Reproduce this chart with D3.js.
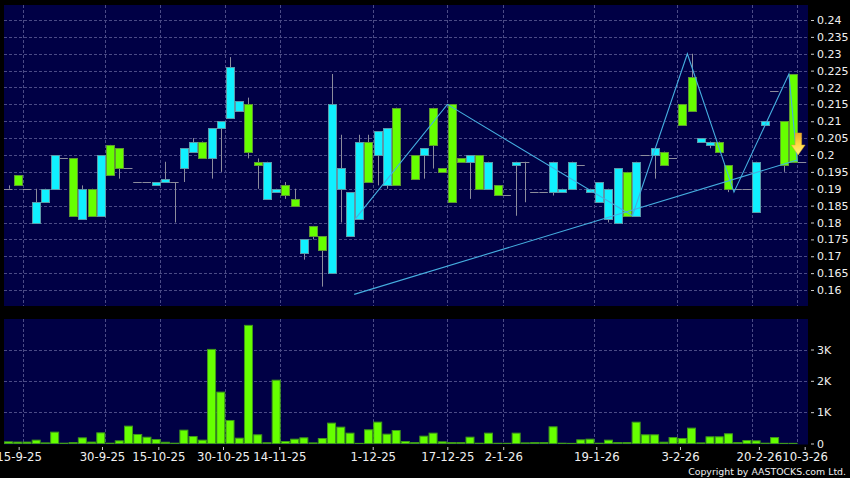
<!DOCTYPE html>
<html><head><meta charset="utf-8">
<script src="https://cdn.jsdelivr.net/npm/d3@7"></script>
<style>html,body{margin:0;padding:0;background:#000;overflow:hidden}svg{display:block}text{font-family:"DejaVu Sans",sans-serif;fill:#f0f0f0}</style>
</head><body><svg id="c" width="850" height="478"></svg>
<script>
const kinds = "DGDCCCDGCGCGGDDDCCDCCGCCCCGGCCGGCGGCCCCGCCG-GCGGGGCGCGDCDDDCCCDCCCCGCDCGDGGCCGGDDCCDGGD".split("");
const tops = [.19,.194,.19,.186,.19,.2,.199,.199,.19,.19,.2,.203,.202,.196,.192,.192,.192,.193,.192,.202,.204,.204,.208,.21,.226,.216,.215,.198,.198,.19,.191,.187,.175,.179,.176,.215,.196,.189,.204,.204,.207,.208,.214,null,.2,.202,.214,.196,.215,.199,.2,.2,.198,.191,.188,.198,.198,.189,.189,.198,.19,.198,.197,.19,.192,.19,.196,.195,.198,.2,.202,.201,.199,.215,.223,.205,.204,.204,.197,.19,.19,.198,.21,.219,.21,.224,.198];
const bottoms = [.19,.191,.19,.18,.186,.19,.199,.182,.181,.182,.182,.194,.196,.196,.192,.192,.191,.192,.192,.196,.201,.199,.199,.208,.211,.213,.201,.197,.187,.189,.188,.185,.171,.176,.172,.165,.19,.176,.181,.192,.2,.191,.191,null,.193,.2,.203,.195,.186,.198,.198,.19,.19,.188,.188,.197,.198,.189,.189,.189,.189,.19,.197,.189,.186,.181,.18,.182,.182,.2,.2,.197,.199,.209,.213,.204,.203,.201,.19,.19,.19,.183,.209,.219,.197,.198,.198];
const highs = [.191,.194,.19,.19,.19,.2,.199,.199,.191,.19,.2,.203,.202,.196,.192,.192,.192,.198,.192,.202,.205,.204,.208,.21,.229,.216,.217,.199,.198,.19,.192,.19,.175,.179,.176,.224,.206,.189,.206,.206,.207,.208,.214,null,.2,.202,.214,.196,.215,.199,.2,.2,.198,.191,.188,.198,.198,.189,.189,.198,.19,.198,.197,.19,.192,.19,.196,.195,.198,.2,.202,.201,.199,.215,.23,.205,.204,.204,.197,.19,.19,.198,.21,.219,.21,.224,.198];
const lows = [.19,.191,.19,.18,.186,.19,.199,.182,.181,.182,.182,.194,.193,.196,.192,.192,.191,.192,.18,.192,.201,.199,.193,.195,.211,.213,.199,.19,.187,.189,.187,.185,.169,.175,.161,.165,.18,.176,.181,.192,.191,.19,.191,null,.193,.193,.196,.195,.186,.198,.187,.19,.19,.188,.188,.182,.186,.189,.189,.188,.189,.19,.197,.189,.186,.18,.18,.182,.182,.2,.193,.197,.199,.209,.213,.204,.202,.201,.189,.19,.19,.183,.209,.219,.195,.198,.198];
const volumes = [53,45,45,107,20,362,10,30,180,45,340,10,85,554,288,200,128,40,10,426,224,107,3003,1640,735,170,3770,277,25,2020,64,138,181,20,160,650,522,330,5,437,682,298,415,64,30,234,330,53,30,30,202,10,330,8,8,330,20,30,30,532,10,5,117,138,10,107,30,30,680,277,277,42,190,160,490,20,213,213,310,30,96,85,10,190,5,5,0];
const zigIdx = [37.55,47.55,67.6,73.55,78.6,84.55,85.45];
const zigVal = [.181,.215,.182,.23,.189,.224,.198];
const trendIdx = [37.45,85.45];
const trendVal = [.1587,.1985];
const priceTicks = [.24,.235,.23,.225,.22,.215,.21,.205,.2,.195,.19,.185,.18,.175,.17,.165,.16];
const volTicks = [0,1000,2000,3000];
const gridIdx = [1.54,10.45,16.4,23.46,29.4,39.5,47.55,53.55,63.46,72.46,80.5,85.46];
const dateIdx = [1.1,10.13,16.23,23.24,29.34,39.46,47.54,53.6,63.68,72.75,81.3,86.26];
const dateLabels = ["15-9-25","30-9-25","15-10-25","30-10-25","14-11-25","1-12-25","17-12-25","2-1-26","19-1-26","3-2-26","20-2-26","10-3-26"];
const arrowAt = {i:85.55, v:.2};

const svg = d3.select("#c");
const L=4,R=808,T=5,B=306,VT=319,VB=443.5;
const x = d3.scaleLinear().domain([0,86]).range([8.5,8.5+86*9.23]);
const y = d3.scaleLinear().domain([.16,.24]).range([290,20]);
const yv = d3.scaleLinear().domain([0,3000]).range([443.5,349.5]);
const idx = d3.range(kinds.length);
svg.append("rect").attr("width",850).attr("height",478).attr("fill","#000");
const defs = svg.append("defs");
const gr = defs.append("linearGradient").attr("id","ag").attr("x1",0).attr("x2",0).attr("y1",0).attr("y2",1);
gr.append("stop").attr("offset","0").attr("stop-color","#e8a828");
gr.append("stop").attr("offset",".5").attr("stop-color","#ffd840");
gr.append("stop").attr("offset","1").attr("stop-color","#fff080");
[[T,B],[VT,VB+1]].forEach(p=>svg.append("rect").attr("x",L).attr("y",p[0]).attr("width",R-L).attr("height",p[1]-p[0]).attr("fill","#000045"));

const gridC="#4b4b86";
function hgrid(vals,s){svg.append("g").selectAll("line").data(vals).join("line")
 .attr("x1",L).attr("x2",R).attr("y1",d=>Math.round(s(d))+.5).attr("y2",d=>Math.round(s(d))+.5)
 .attr("stroke",gridC).attr("stroke-dasharray","3,2");}
hgrid(priceTicks,y); hgrid(volTicks.slice(1),yv);
[[T,B],[VT,VB]].forEach(p=>svg.append("g").selectAll("line").data(gridIdx).join("line")
 .attr("x1",d=>Math.round(x(d))+.5).attr("x2",d=>Math.round(x(d))+.5).attr("y1",p[0]).attr("y2",p[1])
 .attr("stroke",gridC).attr("stroke-dasharray","3,2"));

// volume
svg.append("g").selectAll("rect").data(idx.filter(i=>volumes[i]>0)).join("rect")
 .attr("x",i=>x(i)-4).attr("width",8).attr("y",i=>yv(volumes[i])).attr("height",i=>yv(0)-yv(volumes[i]))
 .attr("fill","#66ff00").attr("stroke","#3f9a1a").attr("stroke-width",1);

// candles
const valid = idx.filter(i=>kinds[i]!=="-");
svg.append("g").selectAll("line").data(valid).join("line")
 .attr("x1",i=>Math.round(x(i))+.5).attr("x2",i=>Math.round(x(i))+.5)
 .attr("y1",i=>y(highs[i])).attr("y2",i=>y(lows[i])).attr("stroke","#8c8c9c");
svg.append("g").selectAll("line").data(valid.filter(i=>kinds[i]==="D")).join("line")
 .attr("x1",i=>x(i)-4.5).attr("x2",i=>x(i)+4).attr("y1",i=>Math.round(y(tops[i]))+.5).attr("y2",i=>Math.round(y(tops[i]))+.5).attr("stroke","#8c8c9c");
svg.append("g").selectAll("rect").data(valid.filter(i=>kinds[i]!=="D")).join("rect")
 .attr("x",i=>Math.round(x(i))-3.5).attr("width",8).attr("y",i=>Math.round(y(tops[i]))+.5)
 .attr("height",i=>Math.round(y(bottoms[i]))-Math.round(y(tops[i])))
 .attr("fill",i=>kinds[i]==="C"?"#10f0ff":"#66ff00")
 .attr("stroke",i=>kinds[i]==="C"?"#5a9aaa":"#5f9a30");

// lines
const line = d3.line().x(d=>x(d[0])).y(d=>y(d[1]));
svg.append("path").attr("d",line(zigIdx.map((d,i)=>[d,zigVal[i]]))).attr("fill","none").attr("stroke","#45aee0").attr("stroke-width",1.1);
svg.append("path").attr("d",line(trendIdx.map((d,i)=>[d,trendVal[i]]))).attr("fill","none").attr("stroke","#45aee0").attr("stroke-width",1.1);

// arrow
const ax=x(arrowAt.i), ay=y(arrowAt.v);
svg.append("path").attr("transform",`translate(${ax},${ay})`)
 .attr("d","M-3,-22H3.5V-10H7L0,0L-7,-10H-3Z").attr("fill","url(#ag)").attr("stroke","#d0a030").attr("stroke-width",.5);

// axes
function rightAxis(s,vals,fmt){
 const g=svg.append("g").attr("transform","translate(811,0)").call(d3.axisRight(s).tickValues(vals).tickFormat(fmt).tickSize(3).tickPadding(3));
 g.select(".domain").remove();
 g.selectAll("line").attr("stroke","#ccc");
 g.selectAll("text").attr("font-size",11).style("fill","#f0f0f0");
}
rightAxis(y,priceTicks,d=>String(d));
rightAxis(yv,volTicks,d=>d?(d/1000)+"K":"0");
const gx=svg.append("g").attr("transform","translate(0,447)").call(d3.axisBottom(x).tickValues(dateIdx).tickFormat((d,i)=>dateLabels[i]).tickSize(3).tickPadding(3));
gx.select(".domain").remove();
gx.selectAll("line").attr("stroke","#ccc");
gx.selectAll("text").attr("font-size",11.7).style("fill","#f0f0f0");
svg.append("text").attr("x",846).attr("y",475).attr("text-anchor","end").attr("font-size",9.4).text("Copyright by AASTOCKS.com Ltd.");
</script></body></html>
